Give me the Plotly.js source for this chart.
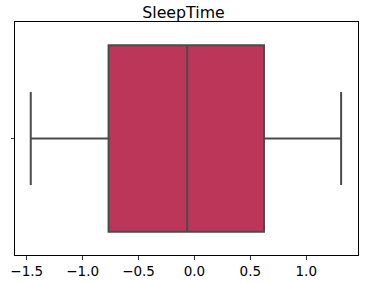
<!DOCTYPE html>
<html>
<head>
<meta charset="utf-8">
<script src="https://cdn.plot.ly/plotly-3.0.1.min.js"></script>
<style>html,body{margin:0;padding:0;background:#fff;}#chart{width:367px;height:284px;}</style>
</head>
<body>
<div id="chart"></div>
<script>
var category = [0];
var q1Vals = [-0.768];
var medianVals = [-0.065];
var q3Vals = [0.622];
var lowerFence = [-1.464];
var upperFence = [1.312];
var xTickVals = [-1.5, -1.0, -0.5, 0.0, 0.5, 1.0];
var xTickText = ['\u22121.5', '\u22121.0', '\u22120.5', '0.0', '0.5', '1.0'];

var trace = {
  type: 'box',
  orientation: 'h',
  y: category,
  q1: q1Vals,
  median: medianVals,
  q3: q3Vals,
  lowerfence: lowerFence,
  upperfence: upperFence,
  width: 0.8,
  whiskerwidth: 0.5,
  fillcolor: '#bc3659',
  line: {color: '#4b4b4b', width: 2},
  boxpoints: false,
  hoverinfo: 'skip'
};

var layout = {
  width: 367, height: 284,
  margin: {l: 15, r: 9, t: 22, b: 29},
  paper_bgcolor: '#fff', plot_bgcolor: '#fff',
  showlegend: false,
  font: {family: 'DejaVu Sans', size: 13.5, color: '#000'},
  title: {text: 'SleepTime', font: {family: 'DejaVu Sans', size: 15.8, color: '#000'}, x: 0.5, xanchor: 'center', y: 1, yref: 'paper', yanchor: 'bottom', pad: {b: 4}},
  xaxis: {
    range: [-1.605, 1.463],
    tickvals: xTickVals, ticktext: xTickText,
    ticks: 'outside', ticklen: 3.5, tickwidth: 0.8, tickcolor: '#000',
    showgrid: false, zeroline: false,
    showline: true, linecolor: '#000', linewidth: 1, mirror: true,
    tickfont: {family: 'DejaVu Sans', size: 13.5, color: '#000'}
  },
  yaxis: {
    range: [-0.5, 0.5],
    tickvals: [0], ticktext: [''],
    ticks: 'outside', ticklen: 3.5, tickwidth: 0.8, tickcolor: '#000',
    showgrid: false, zeroline: false,
    showline: true, linecolor: '#000', linewidth: 1, mirror: true
  }
};

Plotly.newPlot('chart', [trace], layout, {staticPlot: true, displayModeBar: false});
</script>
</body>
</html>
